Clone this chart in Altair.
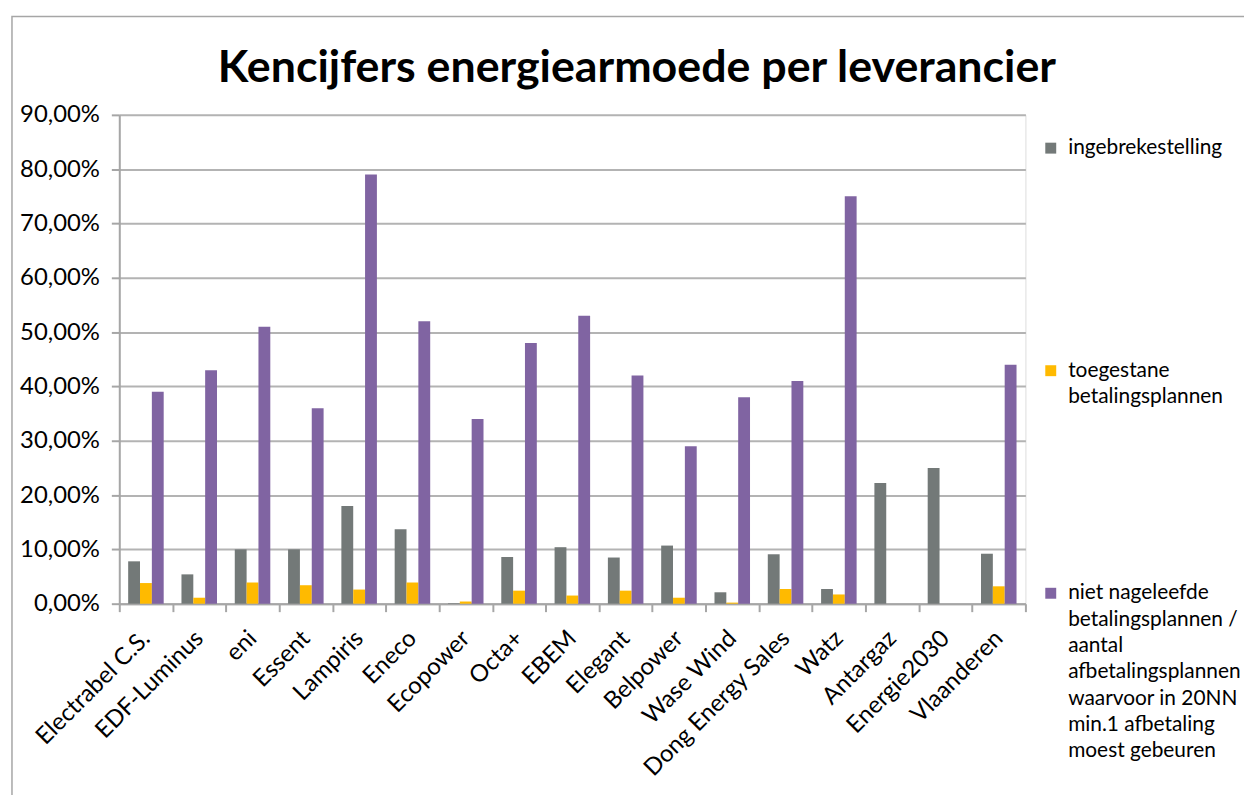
import altair as alt
import pandas as pd

categories = ["Electrabel C.S.", "EDF-Luminus", "eni", "Essent", "Lampiris", "Eneco",
              "Ecopower", "Octa+", "EBEM", "Elegant", "Belpower", "Wase Wind",
              "Dong Energy Sales", "Watz", "Antargaz", "Energie2030", "Vlaanderen"]

series_names = [
    "ingebrekestelling",
    "toegestane\nbetalingsplannen",
    "niet nageleefde\nbetalingsplannen /\naantal\nafbetalingsplannen\nwaarvoor in 20NN\nmin.1 afbetaling\nmoest gebeuren",
]
series_colors = ["#737978", "#FFBA00", "#8064A2"]

ingebrekestelling = [7.8, 5.4, 10.0, 10.0, 18.0, 13.7, 0.1, 8.6, 10.4, 8.5, 10.7, 2.1, 9.1, 2.7, 22.2, 25.0, 9.2]
toegestane = [3.8, 1.1, 3.9, 3.4, 2.6, 3.9, 0.4, 2.4, 1.5, 2.4, 1.1, 0.2, 2.7, 1.7, 0.0, 0.0, 3.2]
niet_nageleefd = [39, 43, 51, 36, 79, 52, 34, 48, 53, 42, 29, 38, 41, 75, 0, 0, 44]

rows = []
for s, vals in zip(series_names, [ingebrekestelling, toegestane, niet_nageleefd]):
    for c, v in zip(categories, vals):
        rows.append({"leverancier": c, "reeks": s, "waarde": v / 100.0})
df = pd.DataFrame(rows)

FONT = "Lato"

bars = alt.Chart(df).mark_bar().encode(
    x=alt.X("leverancier:N", sort=categories, title=None,
            scale=alt.Scale(paddingInner=0, paddingOuter=0),
            axis=alt.Axis(labelAngle=-45, labelAlign="right", labelBaseline="middle",
                          labelFont=FONT, labelFontSize=24, labelColor="#000000",
                          labelPadding=23, tickBand="extent", tickSize=8,
                          tickColor="#A6A6A6", tickWidth=2, domainColor="#A6A6A6",
                          domainWidth=2, labelLimit=400)),
    xOffset=alt.XOffset("reeks:N", sort=series_names,
                        scale=alt.Scale(paddingOuter=0.75, paddingInner=0)),
    y=alt.Y("waarde:Q", title=None,
            scale=alt.Scale(domain=[0, 0.9], nice=False),
            axis=alt.Axis(values=[i / 10 for i in range(10)],
                          labelExpr="replace(format(datum.value, '.2%'), '.', ',')",
                          labelFont=FONT, labelFontSize=24, labelColor="#000000",
                          labelPadding=12, tickSize=8, tickColor="#A6A6A6", tickWidth=2,
                          domainColor="#A6A6A6", domainWidth=2,
                          grid=True, gridColor="#B3B3B3", gridWidth=2)),
    color=alt.Color("reeks:N", sort=series_names,
                    scale=alt.Scale(domain=series_names, range=series_colors),
                    legend=alt.Legend(title=None, orient="none", legendX=927, legendY=23,
                                      labelExpr="split(datum.label, '\\n')",
                                      labelFont=FONT, labelFontSize=21, labelColor="#000000",
                                      labelLimit=400, symbolType="square", symbolSize=121,
                                      symbolStrokeWidth=0, gridAlign="all", rowPadding=43,
                                      labelOffset=7)),
)

frame = alt.Chart(pd.DataFrame({"k": [0]})).mark_rect(
    fill=None, stroke="#A6A6A6", strokeWidth=1.5
).encode(x=alt.value(-108), x2=alt.value(1160), y=alt.value(-99), y2=alt.value(800))

chart = alt.layer(frame, bars).properties(
    width=912, height=492,
    autosize=alt.AutoSizeParams(type="none"),
    padding={"left": 112, "top": 105, "right": 220, "bottom": 190},
    title=alt.TitleParams("Kencijfers energiearmoede per leverancier", font=FONT,
                          fontSize=45, fontWeight="bold", color="#000000",
                          anchor="middle", dx=65, offset=-76),
).configure_view(stroke=None).configure(
    background="white", style={"guide-label": {"lineHeight": 26.5}}
)

chart.save("out.html", embed_options={"renderer": "svg", "actions": False})
